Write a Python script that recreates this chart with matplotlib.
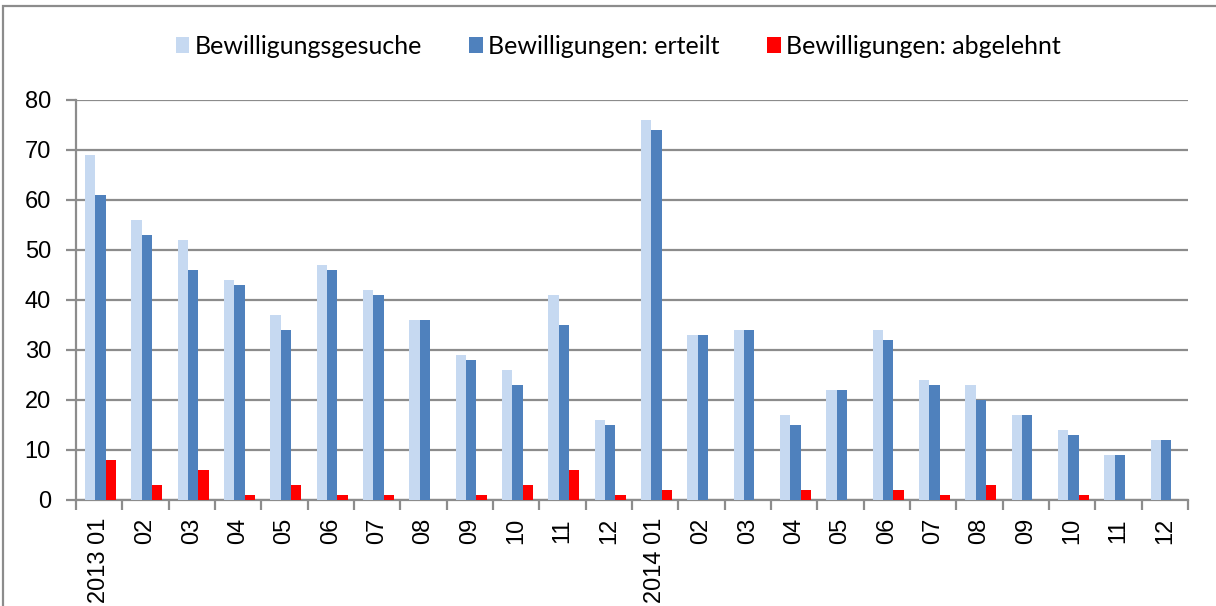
import matplotlib
matplotlib.use("Agg")
import matplotlib.pyplot as plt
import numpy as np
from matplotlib.patches import Rectangle

labels = ["2013 01", "02", "03", "04", "05", "06", "07", "08", "09", "10", "11", "12",
          "2014 01", "02", "03", "04", "05", "06", "07", "08", "09", "10", "11", "12"]
gesuche = [69, 56, 52, 44, 37, 47, 42, 36, 29, 26, 41, 16,
           76, 33, 34, 17, 22, 34, 24, 23, 17, 14, 9, 12]
erteilt = [61, 53, 46, 43, 34, 46, 41, 36, 28, 23, 35, 15,
           74, 33, 34, 15, 22, 32, 23, 20, 17, 13, 9, 12]
abgelehnt = [8, 3, 6, 1, 3, 1, 1, 0, 1, 3, 6, 1,
             2, 0, 0, 2, 0, 2, 1, 3, 0, 1, 0, 0]
series_names = ["Bewilligungsgesuche", "Bewilligungen: erteilt", "Bewilligungen: abgelehnt"]
colors = ["#c6d9f1", "#4f81bd", "#ff0000"]

W, H = 1216, 606
fig = plt.figure(figsize=(W / 100, H / 100), dpi=100)
ax = fig.add_axes([76 / W, 1 - 500 / H, (1188 - 76) / W, 400 / H])

x = np.arange(len(labels))
bw = 0.222
for i, (vals, c, name) in enumerate(zip([gesuche, erteilt, abgelehnt], colors, series_names)):
    ax.bar(x + (i - 1) * bw + 0.03, vals, width=bw, color=c, label=name, zorder=3)

ax.set_xlim(-0.5, len(labels) - 0.5)
ax.set_ylim(0, 80)
ax.set_yticks(range(0, 81, 10))
ax.yaxis.grid(True, color="#8c8c8c", linewidth=1.6, zorder=0)
ax.set_axisbelow(True)

for s in ["top", "right"]:
    ax.spines[s].set_visible(False)
for s in ["left", "bottom"]:
    ax.spines[s].set_color("#8c8c8c")
    ax.spines[s].set_linewidth(1.6)

ax.set_xticks(np.arange(-0.5, len(labels) + 0.5, 1.0))
ax.set_xticklabels([])
ax.set_xticks(x, minor=True)
ax.set_xticklabels(labels, minor=True, rotation=90, fontfamily="Liberation Sans", fontsize=17)
ax.tick_params(axis="x", which="major", length=7, width=1.6, color="#8c8c8c", direction="out")
ax.tick_params(axis="x", which="minor", length=0, pad=13)
ax.tick_params(axis="y", length=7, width=1.6, color="#8c8c8c", direction="out", pad=11)
for t in ax.get_yticklabels():
    t.set_fontfamily("Liberation Sans")
    t.set_fontsize(17)

leg = fig.legend(loc="center", bbox_to_anchor=(618 / W, 1 - 46 / H), ncol=3, frameon=False,
                 prop={"family": "Lato", "size": 18}, handlelength=0.55, handleheight=0.6,
                 handletextpad=0.2, columnspacing=1.9)

fig.patches.append(Rectangle((3 / W, -0.1), 1.2, 1 - 6 / H + 0.1, transform=fig.transFigure,
                             fill=False, edgecolor="#8c8c8c", linewidth=1.6))

fig.savefig("out.png", dpi=100)
